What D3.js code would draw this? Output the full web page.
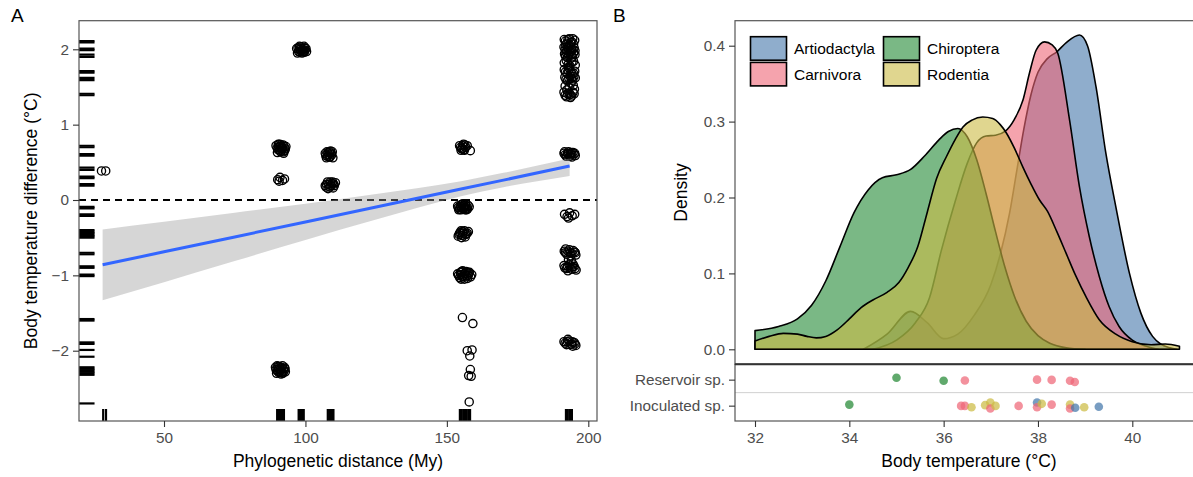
<!DOCTYPE html>
<html>
<head>
<meta charset="utf-8">
<script src="https://cdn.jsdelivr.net/npm/d3@7"></script>
<style>
  body { margin: 0; background: #fff; }
  text { font-family: "Liberation Sans", Arial, Helvetica, sans-serif; }
</style>
</head>
<body>
<svg id="chart" width="1193" height="477"></svg>
<script>
// ---------- Panel A data: species pairs ----------
// [phylogenetic distance (My), body temperature difference (°C)], jittered positions
const pairPoints = [
  [27.9, 0.385], [29.4, 0.385],
  // ~91 My
  [89.6, 0.72], [90.3, 0.67], [90.9, 0.74], [91.5, 0.69], [92.1, 0.73], [92.7, 0.66], [93.1, 0.71],
  [90.1, 0.63], [91.2, 0.64], [92.3, 0.62], [91.8, 0.70], [90.6, 0.70],
  [90.0, 0.69], [90.8, 0.66], [91.4, 0.73], [92.0, 0.68], [92.5, 0.71], [91.6, 0.66], [90.4, 0.74],
  [92.9, 0.68], [91.1, 0.71], [92.2, 0.64],
  [90.2, 0.27], [91.0, 0.30], [91.9, 0.26], [92.6, 0.28], [90.7, 0.25],
  [89.4, -2.22], [90.1, -2.27], [90.8, -2.21], [91.5, -2.29], [92.2, -2.24], [92.9, -2.28],
  [89.8, -2.30], [91.1, -2.25], [91.9, -2.20], [92.6, -2.22], [90.4, -2.24], [91.4, -2.31],
  [89.6, -2.25], [90.3, -2.21], [91.0, -2.28], [91.7, -2.23], [92.4, -2.27], [92.8, -2.24],
  [90.6, -2.29], [91.3, -2.22], [92.0, -2.30], [90.0, -2.20],
  // ~98 My
  [96.9, 2.01], [97.6, 1.97], [98.3, 2.03], [99.0, 1.99], [99.8, 2.02], [100.4, 1.97],
  [97.2, 1.95], [98.8, 1.95], [99.5, 2.04], [98.0, 2.00], [100.2, 2.01],
  [97.4, 2.02], [98.1, 1.96], [98.6, 2.01], [99.3, 1.97], [99.9, 1.99], [97.9, 2.04], [98.4, 1.98], [99.6, 1.96],
  // ~108 My
  [107.0, 0.62], [107.8, 0.58], [108.5, 0.64], [109.3, 0.60], [109.7, 0.56], [107.4, 0.56], [108.9, 0.65], [108.2, 0.60],
  [107.2, 0.59], [108.0, 0.63], [108.7, 0.57], [109.1, 0.62], [109.5, 0.64], [107.6, 0.64], [108.4, 0.57],
  [107.0, 0.19], [107.8, 0.24], [108.6, 0.17], [109.4, 0.22], [110.2, 0.19], [110.6, 0.23], [108.0, 0.15], [109.8, 0.16], [107.5, 0.21],
  [107.3, 0.17], [108.3, 0.21], [109.0, 0.19], [109.6, 0.24], [110.0, 0.21], [108.8, 0.24],
  // ~156 My
  [154.5, 0.72], [155.2, 0.68], [155.9, 0.74], [156.6, 0.70], [157.2, 0.72], [155.0, 0.66], [156.2, 0.66], [158.3, 0.655],
  [154.8, 0.70], [155.6, 0.72], [156.4, 0.73], [155.4, 0.69], [156.0, 0.67],
  [153.8, -0.08], [154.5, -0.12], [155.2, -0.06], [155.9, -0.11], [156.6, -0.07], [157.3, -0.12], [157.9, -0.09],
  [154.2, -0.13], [155.6, -0.05], [156.9, -0.13], [154.9, -0.09], [156.3, -0.10],
  [154.0, -0.10], [154.7, -0.07], [155.4, -0.11], [156.1, -0.08], [156.8, -0.11], [157.5, -0.07],
  [155.0, -0.13], [156.5, -0.13], [157.1, -0.09], [155.8, -0.08],
  [154.0, -0.48], [154.8, -0.43], [155.5, -0.47], [156.2, -0.41], [156.9, -0.45], [157.6, -0.42], [155.2, -0.50], [156.5, -0.49], [154.5, -0.44],
  [154.3, -0.46], [155.0, -0.41], [155.8, -0.44], [156.6, -0.46], [157.2, -0.44], [155.6, -0.42],
  [153.8, -0.98], [154.5, -1.03], [155.2, -0.95], [155.9, -1.01], [156.6, -0.97], [157.3, -1.04],
  [158.0, -0.96], [158.8, -0.99], [154.9, -0.99], [156.2, -1.05], [157.6, -1.00], [155.6, -0.94],
  [154.1, -1.00], [154.8, -0.96], [155.5, -1.02], [156.3, -0.98], [157.0, -1.01], [157.8, -0.97],
  [158.4, -1.02], [156.8, -0.95], [155.0, -1.05], [157.4, -0.96],
  [155.5, -1.56], [159.2, -1.64], [157.2, -2.00], [158.9, -1.99], [158.1, -2.07], [158.3, -2.25],
  [157.7, -2.33], [158.6, -2.34], [157.9, -2.68],
  // ~193 My
  [191.5, 2.13], [192.4, 2.08], [193.3, 2.14], [194.2, 2.10], [195.2, 2.12], [192.0, 2.06], [194.8, 2.07],
  [191.9, 2.11], [192.8, 2.13], [193.8, 2.09], [194.5, 2.14],
  [191.4, 2.03], [192.3, 1.98], [193.2, 2.04], [194.1, 1.99], [195.0, 2.02], [193.7, 1.97],
  [191.8, 2.00], [192.7, 2.02], [194.6, 2.00], [195.3, 1.98],
  [191.6, 1.94], [192.6, 1.89], [193.5, 1.95], [194.4, 1.90], [195.3, 1.93], [192.1, 1.96],
  [191.9, 1.91], [193.0, 1.93], [193.9, 1.92], [194.8, 1.95],
  [191.5, 1.82], [192.9, 1.80], [194.2, 1.83], [195.4, 1.79], [192.2, 1.85], [193.5, 1.78], [194.8, 1.84],
  [191.5, 1.73], [192.5, 1.68], [193.4, 1.74], [194.3, 1.67], [195.2, 1.71], [192.9, 1.76],
  [191.9, 1.70], [192.9, 1.72], [193.9, 1.70], [194.8, 1.68],
  [191.7, 1.63], [192.6, 1.58], [193.6, 1.64], [194.5, 1.59], [195.4, 1.62],
  [192.1, 1.60], [193.1, 1.62], [194.0, 1.61], [194.9, 1.64],
  [191.8, 1.51], [193.2, 1.49], [194.7, 1.52], [192.4, 1.46], [193.9, 1.55], [195.1, 1.47],
  [191.4, 1.43], [192.3, 1.37], [193.2, 1.42], [194.1, 1.38], [195.0, 1.41], [193.7, 1.36],
  [191.8, 1.39], [192.7, 1.41], [193.6, 1.40], [194.6, 1.43],
  [191.4, 0.62], [192.2, 0.58], [193.0, 0.64], [193.8, 0.60], [194.6, 0.63], [195.4, 0.59], [192.6, 0.62], [194.2, 0.57], [195.0, 0.61],
  [191.8, 0.60], [192.9, 0.61], [193.4, 0.58], [194.0, 0.63], [195.2, 0.62], [191.6, 0.64], [193.6, 0.62],
  [191.6, -0.19], [192.5, -0.22], [193.4, -0.17], [194.3, -0.21], [195.2, -0.19], [193.0, -0.24],
  [191.5, -0.68], [192.4, -0.72], [193.3, -0.66], [194.2, -0.71], [195.1, -0.69], [195.6, -0.73], [192.0, -0.65], [193.8, -0.74],
  [191.9, -0.70], [192.8, -0.68], [193.6, -0.70], [194.6, -0.67], [195.4, -0.70],
  [193.0, -0.79], [194.0, -0.80],
  [191.4, -0.87], [192.3, -0.91], [193.2, -0.86], [194.1, -0.92], [195.0, -0.88], [195.7, -0.93], [192.8, -0.94], [194.6, -0.85],
  [191.7, -0.90], [192.6, -0.88], [193.6, -0.90], [194.5, -0.89], [195.3, -0.91],
  [191.4, -1.88], [192.3, -1.92], [193.2, -1.87], [194.1, -1.91], [195.0, -1.89], [195.6, -1.93], [192.8, -1.85], [194.5, -1.94],
  [191.8, -1.90], [192.6, -1.88], [193.5, -1.92], [194.3, -1.88], [195.3, -1.91]
];

// Marginal rugs (unjittered values)
const rugDistance = [28.5, 29.5, 90.0, 90.5, 91.0, 91.5, 92.0, 92.4, 97.6, 98.1, 98.6, 99.1, 99.4,
  107.9, 108.4, 108.9, 109.4, 109.9, 154.6, 155.2, 155.8, 156.4, 157.0, 157.6, 158.2,
  192.1, 192.7, 193.3, 193.8, 194.2];
const rugDifference = [2.11, 2.09, 2.01, 1.99, 1.93, 1.90, 1.71, 1.69, 1.62, 1.59, 1.41, 1.39,
  0.72, 0.70, 0.61, 0.59, 0.43, 0.40, 0.31, 0.29, 0.21, 0.19, -0.09, -0.11, -0.19, -0.21,
  -0.40, -0.42, -0.44, -0.46, -0.48, -0.50, -0.70, -0.72, -0.88, -0.90, -0.99, -1.01,
  -1.58, -1.60, -1.89, -1.91, -1.99, -2.08, -2.22, -2.24, -2.26, -2.28, -2.30, -2.32, -2.70];

// Linear fit with 95% confidence band
const fitDistance = [28.3, 50, 75, 100, 125, 140, 155, 170, 193.4];
const fitMean     = [-0.86, -0.688, -0.49, -0.291, -0.093, 0.026, 0.145, 0.264, 0.45];
const fitLower    = [-1.33, -1.09, -0.81, -0.53, -0.26, -0.10, 0.05, 0.17, 0.32];
const fitUpper    = [-0.39, -0.29, -0.17, -0.05, 0.08, 0.16, 0.25, 0.36, 0.55];

const distanceTicks = [50, 100, 150, 200];
const differenceTicks = [-2, -1, 0, 1, 2];

// ---------- Panel B data: body temperature densities by order ----------
const orders = ["Artiodactyla", "Carnivora", "Chiroptera", "Rodentia"];

const artiodactylaTemp = [34.3, 34.8, 35.3, 35.65, 36.0, 36.3, 36.65, 37.0, 37.2, 37.4, 37.55, 37.7, 37.85, 38.0,
  38.2, 38.4, 38.6, 38.88, 39.05, 39.23, 39.44, 39.65, 39.94, 40.18, 40.43, 40.6, 40.8, 40.95];
const artiodactylaDens = [0.0, 0.02, 0.05, 0.035, 0.014, 0.02, 0.045, 0.085, 0.125, 0.18, 0.235, 0.29, 0.335, 0.365,
  0.383, 0.392, 0.404, 0.414, 0.40, 0.346, 0.258, 0.188, 0.10, 0.048, 0.017, 0.007, 0.002, 0.0];

const carnivoraTemp = [34.5, 35.0, 35.4, 35.7, 35.95, 36.25, 36.5, 36.7, 36.9, 37.1, 37.3, 37.5, 37.68, 37.82,
  37.96, 38.14, 38.3, 38.42, 38.67, 38.88, 39.09, 39.3, 39.51, 39.72, 40.0, 40.3, 40.55];
const carnivoraDens = [0.0, 0.012, 0.035, 0.068, 0.13, 0.196, 0.245, 0.272, 0.281, 0.282, 0.287, 0.303, 0.328, 0.364,
  0.394, 0.405, 0.401, 0.39, 0.302, 0.214, 0.148, 0.096, 0.056, 0.030, 0.012, 0.004, 0.0];

const chiropteraTemp = [32.0, 32.5, 32.9, 33.2, 33.5, 33.8, 34.1, 34.4, 34.7, 35.0, 35.3, 35.6, 35.9, 36.1, 36.3,
  36.5, 36.7, 36.9, 37.1, 37.3, 37.5, 37.75, 38.0, 38.25, 38.6, 39.0];
const chiropteraDens = [0.0246, 0.030, 0.040, 0.058, 0.090, 0.135, 0.180, 0.210, 0.226, 0.230, 0.237, 0.255, 0.276, 0.287, 0.291,
  0.280, 0.250, 0.205, 0.155, 0.108, 0.070, 0.037, 0.018, 0.008, 0.002, 0.0];

const rodentiaTemp = [32.0, 32.3, 32.6, 32.9, 33.1, 33.3, 33.5, 33.75, 34.0, 34.25, 34.5, 34.8, 35.05, 35.25, 35.45,
  35.65, 35.85, 36.06, 36.25, 36.41, 36.6, 36.83, 37.04, 37.2, 37.33, 37.5, 37.68, 37.85, 38.03, 38.2, 38.4,
  38.6, 38.8, 39.02, 39.3, 39.65, 40.0, 40.4, 40.7, 41.0];
const rodentiaDens = [0.011, 0.017, 0.021, 0.020, 0.017, 0.015, 0.017, 0.026, 0.040, 0.055, 0.065, 0.075, 0.088, 0.108, 0.135,
  0.18, 0.225, 0.254, 0.277, 0.293, 0.302, 0.306, 0.304, 0.296, 0.285, 0.265, 0.24, 0.218, 0.197, 0.182, 0.155,
  0.126, 0.097, 0.069, 0.039, 0.02, 0.01, 0.006, 0.007, 0.004];

const densityTicks = [0, 0.1, 0.2, 0.3, 0.4];
const temperatureTicks = [32, 34, 36, 38, 40];

// Study species: role, order, body temperature, vertical jitter (in category steps)
const roles = ["Inoculated sp.", "Reservoir sp."];
const speciesRole = [
  "Reservoir sp.", "Reservoir sp.", "Reservoir sp.", "Reservoir sp.", "Reservoir sp.", "Reservoir sp.", "Reservoir sp.",
  "Inoculated sp.", "Inoculated sp.", "Inoculated sp.", "Inoculated sp.", "Inoculated sp.", "Inoculated sp.",
  "Inoculated sp.", "Inoculated sp.", "Inoculated sp.", "Inoculated sp.", "Inoculated sp.", "Inoculated sp.",
  "Inoculated sp.", "Inoculated sp.", "Inoculated sp.", "Inoculated sp.", "Inoculated sp.", "Inoculated sp."
];
const speciesOrder = [
  "Chiroptera", "Chiroptera", "Carnivora", "Carnivora", "Carnivora", "Carnivora", "Carnivora",
  "Chiroptera", "Carnivora", "Carnivora", "Rodentia", "Rodentia", "Rodentia", "Carnivora",
  "Rodentia", "Carnivora", "Artiodactyla", "Carnivora", "Rodentia", "Carnivora",
  "Rodentia", "Carnivora", "Artiodactyla", "Rodentia", "Artiodactyla"
];
const speciesTemp = [
  35.0, 36.0, 36.45, 37.98, 38.29, 38.68, 38.78,
  34.0, 36.37, 36.45, 36.59, 36.88, 36.99, 36.99,
  37.1, 37.59, 37.98, 37.98, 38.08, 38.29,
  38.68, 38.68, 38.79, 38.98, 39.29
];
const speciesJitter = [
  0.07, -0.04, -0.03, 0.0, -0.01, -0.04, -0.09,
  0.04, -0.01, -0.01, -0.06, 0.02, 0.12, -0.11,
  -0.01, -0.01, 0.12, -0.06, 0.07, 0.04,
  0.04, -0.11, -0.08, -0.06, -0.04
];

// ---------- Styling ----------
const orderColor = { Artiodactyla: "#4477AA", Carnivora: "#EE6677", Chiroptera: "#228833", Rodentia: "#CCBB44" };
const tickFont = 15.3, titleFont = 17.5, legendFont = 15.5;
const borderColor = "#555";

const svg = d3.select("#chart");
svg.append("rect").attr("width", 1193).attr("height", 477).attr("fill", "#fff");

const minus = d => (d < 0 ? "\u2212" + Math.abs(d) : String(d));

function styleAxis(g) {
  g.select(".domain").remove();
  g.selectAll(".tick line").attr("stroke", "#333").attr("stroke-width", 1.1);
  g.selectAll(".tick text").attr("fill", "#4d4d4d").attr("font-size", tickFont)
    .attr("font-family", '"Liberation Sans", Arial, Helvetica, sans-serif');
}

// =================== Panel A ===================
const PA = { l: 79, r: 597, t: 20.7, b: 421 };
const xA = d3.scaleLinear().domain([50, 200]).range([164, 588.3]);
const yA = d3.scaleLinear().domain([-2, 2]).range([350.7, 49.3]);

svg.append("clipPath").attr("id", "clipA")
  .append("rect").attr("x", PA.l).attr("y", PA.t).attr("width", PA.r - PA.l).attr("height", PA.b - PA.t);
const gA = svg.append("g").attr("clip-path", "url(#clipA)");

// zero reference
gA.append("line")
  .attr("x1", PA.l).attr("x2", PA.r).attr("y1", yA(0)).attr("y2", yA(0))
  .attr("stroke", "#000").attr("stroke-width", 1.8).attr("stroke-dasharray", "7,5");

// species pairs
gA.append("g").selectAll("circle").data(pairPoints).join("circle")
  .attr("cx", d => xA(d[0])).attr("cy", d => yA(d[1])).attr("r", 4.1)
  .attr("fill", "none").attr("stroke", "#000").attr("stroke-width", 1.35);

// rugs
const rugLenY = 0.03 * (PA.r - PA.l), rugLenX = 0.03 * (PA.b - PA.t);
gA.append("g").selectAll("line").data(rugDifference).join("line")
  .attr("x1", PA.l).attr("x2", PA.l + rugLenY).attr("y1", d => yA(d)).attr("y2", d => yA(d))
  .attr("stroke", "#000").attr("stroke-width", 2.2);
gA.append("g").selectAll("line").data(rugDistance).join("line")
  .attr("y1", PA.b).attr("y2", PA.b - rugLenX).attr("x1", d => xA(d)).attr("x2", d => xA(d))
  .attr("stroke", "#000").attr("stroke-width", 2.2);

// fit band and line
const fitRows = fitDistance.map((x, i) => ({ x, m: fitMean[i], lo: fitLower[i], hi: fitUpper[i] }));
gA.append("path").datum(fitRows)
  .attr("d", d3.area().x(d => xA(d.x)).y0(d => yA(d.lo)).y1(d => yA(d.hi)).curve(d3.curveMonotoneX))
  .attr("fill", "#999999").attr("fill-opacity", 0.4);
gA.append("path").datum(fitRows)
  .attr("d", d3.line().x(d => xA(d.x)).y(d => yA(d.m)))
  .attr("fill", "none").attr("stroke", "#3366FF").attr("stroke-width", 3);

svg.append("rect").attr("x", PA.l).attr("y", PA.t).attr("width", PA.r - PA.l).attr("height", PA.b - PA.t)
  .attr("fill", "none").attr("stroke", borderColor).attr("stroke-width", 1.2);

svg.append("g").attr("transform", `translate(${PA.l},0)`)
  .call(d3.axisLeft(yA).tickValues(differenceTicks).tickSize(6).tickPadding(4).tickFormat(minus))
  .call(styleAxis);
svg.append("g").attr("transform", `translate(0,${PA.b})`)
  .call(d3.axisBottom(xA).tickValues(distanceTicks).tickSize(6).tickPadding(5))
  .call(styleAxis);

svg.append("text").attr("x", (PA.l + PA.r) / 2).attr("y", 467).attr("text-anchor", "middle")
  .attr("font-size", titleFont).attr("fill", "#000").text("Phylogenetic distance (My)");
svg.append("text").attr("transform", `translate(37,${(PA.t + PA.b) / 2}) rotate(-90)`).attr("text-anchor", "middle")
  .attr("font-size", titleFont).attr("fill", "#000").text("Body temperature difference (°C)");
svg.append("text").attr("x", 11).attr("y", 22).attr("font-size", 19).attr("fill", "#000").text("A");

// =================== Panel B ===================
const PB = { l: 735, r: 1203, t: 20.7, mid: 364.3, b: 421 };
const xB = d3.scaleLinear().domain([32, 40]).range([755, 1132.3]);
const yB = d3.scaleLinear().domain([0, 0.4]).range([349.3, 45.7]);

svg.append("clipPath").attr("id", "clipB")
  .append("rect").attr("x", PB.l).attr("y", PB.t).attr("width", PB.r - PB.l).attr("height", PB.mid - PB.t);
const gB = svg.append("g").attr("clip-path", "url(#clipB)");

const densitySeries = [
  { order: "Artiodactyla", t: artiodactylaTemp, d: artiodactylaDens },
  { order: "Carnivora", t: carnivoraTemp, d: carnivoraDens },
  { order: "Chiroptera", t: chiropteraTemp, d: chiropteraDens },
  { order: "Rodentia", t: rodentiaTemp, d: rodentiaDens }
];
const densArea = d3.area().x(p => xB(p[0])).y0(yB(0)).y1(p => yB(p[1])).curve(d3.curveMonotoneX);
gB.selectAll("path.dens").data(densitySeries).join("path").attr("class", "dens")
  .attr("d", s => densArea(s.t.map((t, i) => [t, s.d[i]])))
  .attr("fill", s => orderColor[s.order]).attr("fill-opacity", 0.6)
  .attr("stroke", "#000").attr("stroke-width", 1.6).attr("stroke-linejoin", "round");

// legend
const legend = svg.append("g");
const keyW = 36, keyH = 23.5;
orders.forEach((o, i) => {
  const col = Math.floor(i / 2), row = i % 2;
  const kx = 750.5 + col * 133, ky = 36.7 + row * (keyH + 2.2);
  legend.append("rect").attr("x", kx).attr("y", ky).attr("width", keyW).attr("height", keyH)
    .attr("fill", orderColor[o]).attr("fill-opacity", 0.6).attr("stroke", "#000").attr("stroke-width", 1.6);
  legend.append("text").attr("x", kx + keyW + 7.5).attr("y", ky + keyH / 2).attr("dy", "0.35em")
    .attr("font-size", legendFont).attr("fill", "#000").text(o);
});

// species strip
const yS = d3.scalePoint().domain(roles).range([PB.b, PB.mid]).padding(0.59);
const stepS = yS.step();
svg.append("line").attr("x1", PB.l).attr("x2", PB.r)
  .attr("y1", (yS(roles[0]) + yS(roles[1])) / 2).attr("y2", (yS(roles[0]) + yS(roles[1])) / 2)
  .attr("stroke", "#d0d0d0").attr("stroke-width", 1);
svg.append("g").selectAll("circle").data(speciesTemp.map((t, i) => i)).join("circle")
  .attr("cx", i => xB(speciesTemp[i]))
  .attr("cy", i => yS(speciesRole[i]) - speciesJitter[i] * stepS)
  .attr("r", 4.3)
  .attr("fill", i => orderColor[speciesOrder[i]]).attr("fill-opacity", 0.72);

// panel frames
svg.append("rect").attr("x", PB.l).attr("y", PB.t).attr("width", PB.r - PB.l).attr("height", PB.mid - PB.t)
  .attr("fill", "none").attr("stroke", borderColor).attr("stroke-width", 1.2);
svg.append("rect").attr("x", PB.l).attr("y", PB.mid).attr("width", PB.r - PB.l).attr("height", PB.b - PB.mid)
  .attr("fill", "none").attr("stroke", borderColor).attr("stroke-width", 1.2);
svg.append("line").attr("x1", PB.l).attr("x2", PB.r).attr("y1", PB.mid).attr("y2", PB.mid)
  .attr("stroke", "#333").attr("stroke-width", 2);

svg.append("g").attr("transform", `translate(${PB.l},0)`)
  .call(d3.axisLeft(yB).tickValues(densityTicks).tickSize(6).tickPadding(4).tickFormat(d3.format(".1f")))
  .call(styleAxis);
svg.append("g").attr("transform", `translate(${PB.l},0)`)
  .call(d3.axisLeft(yS).tickSize(6).tickPadding(4))
  .call(styleAxis);
svg.append("g").attr("transform", `translate(0,${PB.b})`)
  .call(d3.axisBottom(xB).tickValues(temperatureTicks).tickSize(6).tickPadding(5))
  .call(styleAxis);

svg.append("text").attr("x", 969).attr("y", 467).attr("text-anchor", "middle")
  .attr("font-size", titleFont).attr("fill", "#000").text("Body temperature (°C)");
svg.append("text").attr("transform", `translate(687,${(PB.t + PB.mid) / 2}) rotate(-90)`).attr("text-anchor", "middle")
  .attr("font-size", titleFont).attr("fill", "#000").text("Density");
svg.append("text").attr("x", 613).attr("y", 22).attr("font-size", 19).attr("fill", "#000").text("B");
</script>
</body>
</html>
